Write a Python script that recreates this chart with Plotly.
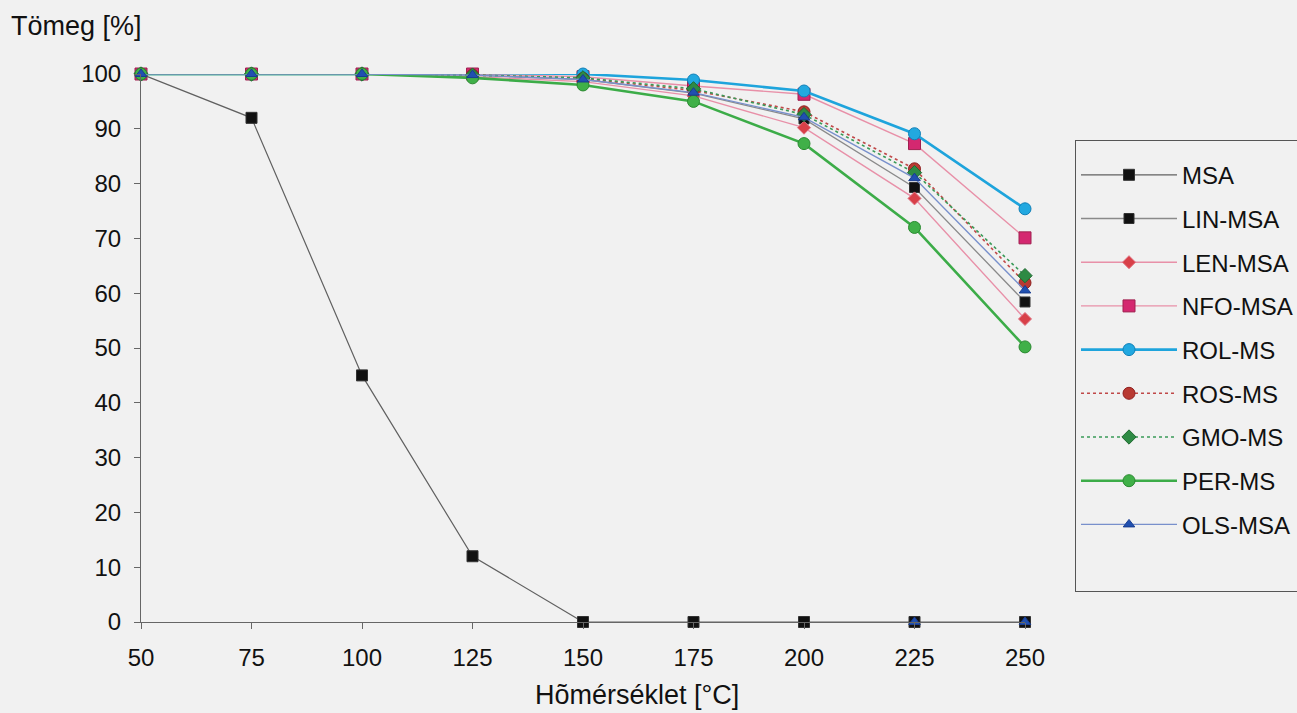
import plotly.graph_objects as go

temps = [50, 75, 100, 125, 150, 175, 200, 225, 250]
msa = [100, 92, 45, 12, 0, 0, 0, 0, 0]
lin_msa = [100, 100, 100, 99.8, 99.0, 96.5, 91.8, 79.3, 58.4]
len_msa = [100, 100, 100, 99.5, 98.6, 96.0, 90.2, 77.3, 55.3]
nfo_msa = [100, 100, 100, 100, 99.5, 97.8, 96.3, 87.3, 70.1]
rol_ms = [100, 100, 100, 100.2, 100, 98.9, 96.9, 89.1, 75.4]
ros_ms = [100, 100, 100, 99.8, 99.2, 97.0, 93.1, 82.7, 61.9]
gmo_ms = [100, 100, 100, 99.8, 99.3, 97.3, 92.6, 82.0, 63.2]
per_ms = [100, 100, 100, 99.3, 98.0, 95.0, 87.3, 72.0, 50.2]
ols_msa = [100, 100, 100, 99.8, 99.0, 96.6, 92.1, 81.0, 60.5]
ols_zero_x = [225, 250]
ols_zero_y = [0, 0]

x_ticks = [50, 75, 100, 125, 150, 175, 200, 225, 250]
y_ticks = [0, 10, 20, 30, 40, 50, 60, 70, 80, 90, 100]

series = [
    ("MSA", msa, dict(color="#606060", width=1.2, dash="solid"),
     dict(symbol="square", size=11, color="#111111", line=dict(color="#333333", width=1))),
    ("LIN-MSA", lin_msa, dict(color="#8a8a8a", width=1.3, dash="solid"),
     dict(symbol="square", size=10, color="#111111", line=dict(color="#333333", width=1))),
    ("LEN-MSA", len_msa, dict(color="#e890a8", width=1.4, dash="solid"),
     dict(symbol="diamond", size=10, color="#d84048", line=dict(color="#e07080", width=1))),
    ("NFO-MSA", nfo_msa, dict(color="#e890a8", width=1.4, dash="solid"),
     dict(symbol="square", size=12, color="#d42870", line=dict(color="#a02050", width=1))),
    ("ROL-MS", rol_ms, dict(color="#1ea4dc", width=2.6, dash="solid"),
     dict(symbol="circle", size=12, color="#22a8e0", line=dict(color="#1080b8", width=1))),
    ("ROS-MS", ros_ms, dict(color="#c04848", width=1.6, dash="dot"),
     dict(symbol="circle", size=12, color="#b83a32", line=dict(color="#902020", width=1))),
    ("GMO-MS", gmo_ms, dict(color="#3a9a58", width=1.6, dash="dot"),
     dict(symbol="diamond", size=11, color="#2e8a44", line=dict(color="#206a30", width=1))),
    ("PER-MS", per_ms, dict(color="#3cac48", width=2.6, dash="solid"),
     dict(symbol="circle", size=12, color="#40b048", line=dict(color="#2a8a30", width=1))),
    ("OLS-MSA", ols_msa, dict(color="#7890cc", width=1.4, dash="solid"),
     dict(symbol="triangle-up", size=10, color="#2050b0", line=dict(color="#183c90", width=1))),
]

fig = go.Figure()
for i, (name, vals, line, marker) in enumerate(series):
    fig.add_trace(go.Scatter(
        x=temps, y=vals, name=name, mode="lines+markers",
        line=line, marker=marker, legendgroup=f"g{i}", cliponaxis=False,
    ))

fig.add_trace(go.Scatter(
    x=ols_zero_x, y=ols_zero_y, mode="markers", showlegend=False,
    marker=dict(symbol="triangle-up", size=10, color="#2050b0", line=dict(color="#183c90", width=1)),
    cliponaxis=False, hoverinfo="skip",
))
# blank legend row to leave the empty space at the bottom of the legend box
fig.add_trace(go.Scatter(
    x=[None], y=[None], name=" ", mode="lines", legendgroup="gblank",
    line=dict(color="rgba(0,0,0,0)", width=0), hoverinfo="skip",
))

font_family = "Liberation Sans, Arial, sans-serif"
fig.update_layout(
    width=1297, height=713,
    margin=dict(l=141, r=272, t=74, b=91),
    paper_bgcolor="#f1f1f1", plot_bgcolor="#f1f1f1",
    font=dict(family=font_family, size=24, color="#111111"),
    showlegend=True,
    legend=dict(
        xref="container", yref="container",
        x=1075 / 1297, y=1 - 140 / 713, xanchor="left", yanchor="top",
        bgcolor="#f1f1f1", bordercolor="#555555", borderwidth=1,
        font=dict(size=24, family=font_family, color="#111111"),
        tracegroupgap=9.5, traceorder="grouped", itemwidth=96,
        title=dict(text=" ", font=dict(size=9)),
        maxheight=650,
    ),
    xaxis=dict(
        range=[50, 250], tickvals=x_ticks, ticktext=[str(v) for v in x_ticks],
        showgrid=False, zeroline=False, showline=True, linecolor="#666666", linewidth=1,
        ticks="outside", ticklen=6, tickcolor="#666666", ticklabelstandoff=8,
    ),
    yaxis=dict(
        range=[0, 100], tickvals=y_ticks,
        showgrid=False, zeroline=False, showline=True, linecolor="#666666", linewidth=1,
        ticks="outside", ticklen=6, tickcolor="#666666", ticklabelstandoff=8,
    ),
    annotations=[
        dict(text="Tömeg [%]", xref="paper", yref="paper", x=-0.149, y=1.088,
             xanchor="left", yanchor="middle", showarrow=False, font=dict(size=27)),
        dict(text="Hõmérséklet [°C]", xref="paper", yref="paper", x=0.561, y=-0.133,
             xanchor="center", yanchor="middle", showarrow=False, font=dict(size=27)),
    ],
)

fig.write_html("out.html", config={"displayModeBar": False},
               post_script="document.body.style.margin='0px';")
